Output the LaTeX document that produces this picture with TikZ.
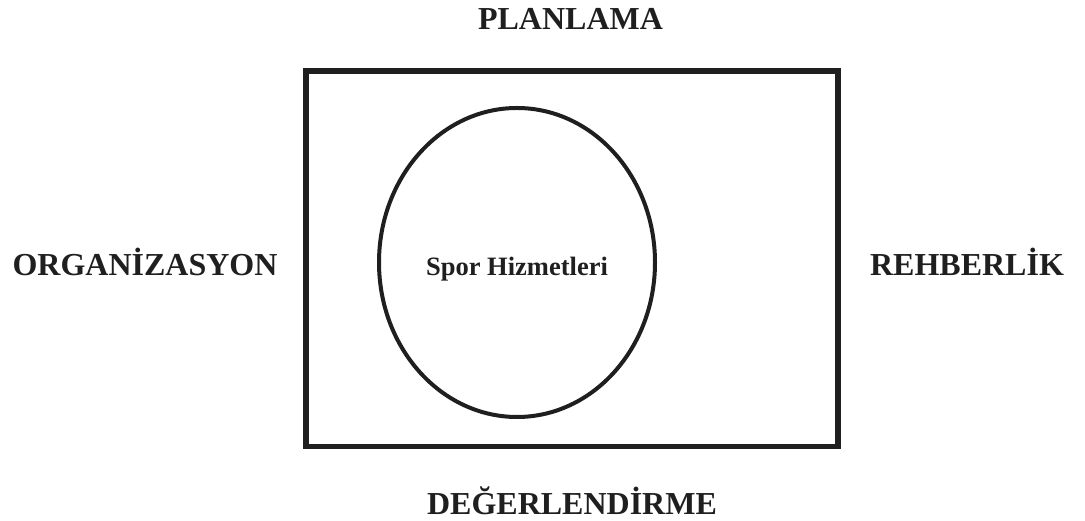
\documentclass[tikz,border=0pt]{standalone}
\usepackage{fontspec}
\setmainfont{Liberation Serif}
\usetikzlibrary{shapes.geometric}
\begin{document}
\begin{tikzpicture}[x=1pt,y=1pt,
  lbl/.style={anchor=base,inner sep=0pt,font=\fontsize{32}{38}\selectfont\bfseries,text=black!88},
  frame/.style={draw=black!88,line width=5.5pt},
  oval/.style={draw=black!88,line width=4pt}]
\useasboundingbox (0,0) rectangle (1085,521);
\node[frame,minimum width=532pt,minimum height=375.5pt,inner sep=0pt] (box) at (572,262) {};
\node[oval,ellipse,minimum width=276pt,minimum height=309pt,inner sep=0pt] (ell) at (517,258.5) {};
\node[lbl] (plan) at (570.5,491) {PLANLAMA};
\node[lbl] (org) at (145,245) {ORGANİZASYON};
\node[lbl] (reh) at (967,245) {REHBERLİK};
\node[lbl] (deg) at (572,6) {DEĞERLENDİRME};
\node[lbl,font=\fontsize{26.5}{32}\selectfont\bfseries] (spor) at (517,245) {Spor Hizmetleri};
\end{tikzpicture}
\end{document}
